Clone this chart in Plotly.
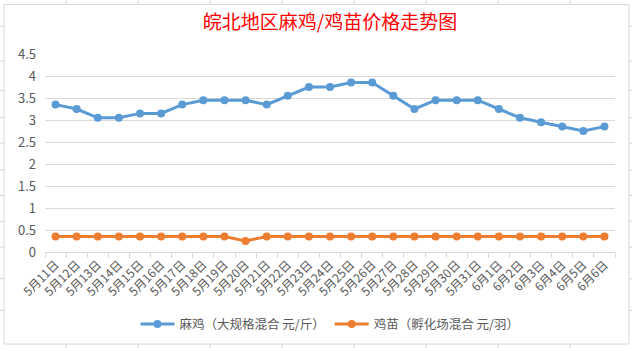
import plotly.graph_objects as go

categories = ["5月11日", "5月12日", "5月13日", "5月14日", "5月15日", "5月16日", "5月17日",
              "5月18日", "5月19日", "5月20日", "5月21日", "5月22日", "5月23日", "5月24日",
              "5月25日", "5月26日", "5月27日", "5月28日", "5月29日", "5月30日", "5月31日",
              "6月1日", "6月2日", "6月3日", "6月4日", "6月5日", "6月6日"]
maji = [3.35, 3.25, 3.05, 3.05, 3.15, 3.15, 3.35, 3.45, 3.45, 3.45, 3.35, 3.55, 3.75, 3.75,
        3.85, 3.85, 3.55, 3.25, 3.45, 3.45, 3.45, 3.25, 3.05, 2.95, 2.85, 2.75, 2.85]
jimiao = [0.35, 0.35, 0.35, 0.35, 0.35, 0.35, 0.35, 0.35, 0.35, 0.25, 0.35, 0.35, 0.35, 0.35,
          0.35, 0.35, 0.35, 0.35, 0.35, 0.35, 0.35, 0.35, 0.35, 0.35, 0.35, 0.35, 0.35]
series_names = ["麻鸡（大规格混合 元/斤）", "鸡苗（孵化场混合 元/羽）"]
y_ticks = [0, 0.5, 1, 1.5, 2, 2.5, 3, 3.5, 4, 4.5]
y_tick_text = ["0", "0.5", "1", "1.5", "2", "2.5", "3", "3.5", "4", "4.5"]

W, H = 632, 351
L, R, T, B = 45, 17, 54, 97
PW, PH = W - L - R, H - T - B

def px(x):
    return (x - L) / PW

def py(y):
    return (H - B - y) / PH

FONT = "Noto Sans CJK SC, Microsoft YaHei, sans-serif"

fig = go.Figure()
fig.add_trace(go.Scatter(x=categories, y=maji, name=series_names[0], mode="lines+markers",
                         line=dict(color="#5b9bd5", width=3),
                         marker=dict(color="#5b9bd5", size=8, symbol="circle")))
fig.add_trace(go.Scatter(x=categories, y=jimiao, name=series_names[1], mode="lines+markers",
                         line=dict(color="#ed7d31", width=3),
                         marker=dict(color="#ed7d31", size=8, symbol="circle")))

shapes = [dict(type="rect", xref="paper", yref="paper",
               x0=px(4), x1=px(629), y0=py(347), y1=py(4),
               line=dict(color="#d9d9d9", width=1), fillcolor="rgba(0,0,0,0)", layer="below")]
for cx in [66, 138, 210, 282, 354, 426, 498, 570]:
    shapes.append(dict(type="line", xref="paper", yref="paper", x0=px(cx), x1=px(cx),
                       y0=py(0), y1=py(4), line=dict(color="#d4d4d4", width=1)))
    shapes.append(dict(type="line", xref="paper", yref="paper", x0=px(cx), x1=px(cx),
                       y0=py(347), y1=py(351), line=dict(color="#d4d4d4", width=1)))
for ry in [26, 61, 91, 118, 144, 171, 197, 223, 249, 281, 313]:
    shapes.append(dict(type="line", xref="paper", yref="paper", x0=px(0), x1=px(4),
                       y0=py(ry), y1=py(ry), line=dict(color="#d4d4d4", width=1)))
    shapes.append(dict(type="line", xref="paper", yref="paper", x0=px(629), x1=px(632),
                       y0=py(ry), y1=py(ry), line=dict(color="#d4d4d4", width=1)))

fig.update_layout(
    width=W, height=H,
    margin=dict(l=L, r=R, t=T, b=B, pad=0),
    paper_bgcolor="white", plot_bgcolor="white",
    font=dict(family=FONT, color="#595959", size=12),
    title=dict(text="皖北地区麻鸡/鸡苗价格走势图", x=0.5, xref="paper", xanchor="center",
               y=1 - 22 / H, yref="container", yanchor="middle",
               font=dict(family=FONT, size=19, color="#ff0000")),
    showlegend=True,
    legend=dict(orientation="h", x=0.5, xanchor="center", xref="paper",
                y=py(327), yanchor="middle", font=dict(size=12.5, color="#595959"),
                itemwidth=34, bgcolor="rgba(0,0,0,0)", tracegroupgap=0),
    xaxis=dict(type="category", categoryorder="array", categoryarray=categories,
               tickangle=-45, tickfont=dict(size=12, color="#595959"),
               showgrid=False, showline=True, linecolor="#d9d9d9", linewidth=1,
               ticks="outside", tickson="boundaries", ticklen=5, tickcolor="#d9d9d9",
               range=[-0.5, len(categories) - 0.5], zeroline=False),
    yaxis=dict(range=[0, 4.5], tickvals=y_ticks, ticktext=y_tick_text,
               tickfont=dict(size=13, color="#595959"),
               showgrid=True, gridcolor="#d9d9d9", gridwidth=1,
               zeroline=False, showline=False, ticks="", ticklabelstandoff=8),
    shapes=shapes,
)

fig.write_html("out.html")
